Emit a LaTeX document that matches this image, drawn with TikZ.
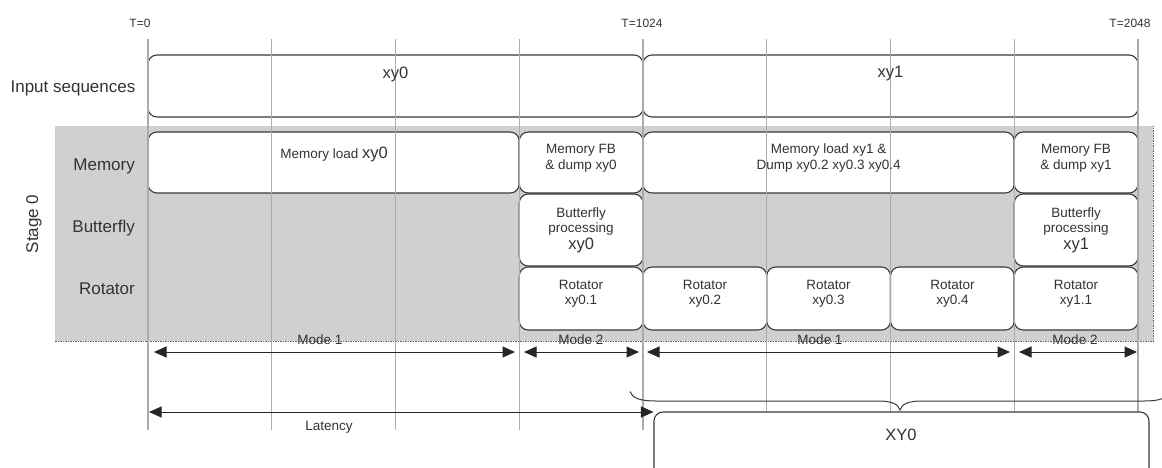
\documentclass[tikz,border=0pt]{standalone}
\usepackage{fontspec}
\setmainfont{Liberation Sans}
\usetikzlibrary{arrows.meta}
\definecolor{txtc}{HTML}{333333}
\definecolor{bgray}{HTML}{D0D0D0}
\definecolor{gline}{HTML}{ABABAB}
\definecolor{bline}{HTML}{3A3A3A}
\begin{document}
\begin{tikzpicture}[x=1pt,y=-1pt,
  box/.style={draw=bline, line width=1.1pt, rounded corners=9pt, fill=white, inner sep=0pt},
  lbl/.style={text=txtc, inner sep=0pt, align=center, font=\fontsize{13.5}{15.5}\selectfont},
  tlbl/.style={text=txtc, inner sep=0pt, font=\fontsize{12}{14}\selectfont},
  big/.style={text=txtc, inner sep=0pt, font=\fontsize{17}{19}\selectfont},
  mid/.style={text=txtc, inner sep=0pt, font=\fontsize{16.5}{18}\selectfont},
  gridln/.style={draw=gline, line width=1.4pt},
  dimarrow/.style={draw=black!85, line width=1pt, {Triangle[length=12.5pt,width=11pt]}-{Triangle[length=12.5pt,width=11pt]}},
  brd/.style={draw=black!60, line width=0.6pt, dash pattern=on 1.5pt off 1pt},
  bracepath/.style={draw=bline, line width=1pt}
]
\useasboundingbox (0,0) rectangle (1162,467);

% stage background
\fill[bgray] (55,126) rectangle (1153,341);
\draw[brd] (55,341) -- (1153,341) -- (1153,126);

% input sequences
\node[box, minimum width=495pt, minimum height=62pt] (in0) at (395.5,86) {};
\node[box, minimum width=495pt, minimum height=62pt] (in1) at (890.5,86) {};

% memory row
\node[box, minimum width=371.25pt, minimum height=61pt] (m0) at (333.6,162.5) {};
\node[box, minimum width=123.75pt, minimum height=61pt] (m1) at (581.1,162.5) {};
\node[box, minimum width=371.25pt, minimum height=61pt] (m2) at (828.6,162.5) {};
\node[box, minimum width=123.75pt, minimum height=61pt] (m3) at (1076.1,162.5) {};

% butterfly row
\node[box, minimum width=123.75pt, minimum height=72pt] (b0) at (581.1,230) {};
\node[box, minimum width=123.75pt, minimum height=72pt] (b1) at (1076.1,230) {};

% rotator row
\node[box, minimum width=123.75pt, minimum height=63pt] (r0) at (581.1,298.5) {};
\node[box, minimum width=123.75pt, minimum height=63pt] (r1) at (704.9,298.5) {};
\node[box, minimum width=123.75pt, minimum height=63pt] (r2) at (828.6,298.5) {};
\node[box, minimum width=123.75pt, minimum height=63pt] (r3) at (952.4,298.5) {};
\node[box, minimum width=123.75pt, minimum height=63pt] (r4) at (1076.1,298.5) {};

% grid lines
\foreach \i in {0,...,8}{
  \coordinate (gt\i) at ({148+123.75*\i},39);
  \coordinate (gb\i) at ({148+123.75*\i},430);
  \draw[gridln] (gt\i) -- (gb\i);
}

% texts in boxes
\node[mid] (tin0) at (395.5,74) {xy0};
\node[mid] (tin1) at (890.5,74) {xy1};
\node[lbl] (tm0) at (334,154) {Memory load {\fontsize{16.5}{18}\selectfont xy0}};
\node[lbl] (tm1) at (581.1,158) {Memory FB\\\& dump xy0};
\node[lbl] (tm2) at (828.6,158) {Memory load xy1 \&\\Dump xy0.2 xy0.3 xy0.4};
\node[lbl] (tm3) at (1076.1,158) {Memory FB\\\& dump xy1};
\node[lbl] (tb0) at (581.1,230) {Butterfly\\processing\\[1pt]{\fontsize{16.5}{18}\selectfont xy0}};
\node[lbl] (tb1) at (1076.1,230) {Butterfly\\processing\\[1pt]{\fontsize{16.5}{18}\selectfont xy1}};
\node[lbl] (tr0) at (581.1,293.5) {Rotator\\xy0.1};
\node[lbl] (tr1) at (704.9,293.5) {Rotator\\xy0.2};
\node[lbl] (tr2) at (828.6,293.5) {Rotator\\xy0.3};
\node[lbl] (tr3) at (952.4,293.5) {Rotator\\xy0.4};
\node[lbl] (tr4) at (1076.1,293.5) {Rotator\\xy1.1};

% row labels
\node[big] (lin) at (73,88.5) {Input sequences};
\node[big, anchor=east] (lmem) at (135,166) {Memory};
\node[big, anchor=east] (lbut) at (135,228) {Butterfly};
\node[big, anchor=east] (lrot) at (135,289) {Rotator};
\node[big, rotate=90] (lstage) at (34,224) {Stage 0};

% time labels
\node[tlbl] (t0) at (140,23) {T=0};
\node[tlbl] (t1) at (642,23) {T=1024};
\node[tlbl] (t2) at (1130,23) {T=2048};

% mode arrows
\coordinate (ma1) at (154,352); \coordinate (mb1) at (515,352);
\coordinate (ma2) at (524,352); \coordinate (mb2) at (639,352);
\coordinate (ma3) at (647,352); \coordinate (mb3) at (1010,352);
\coordinate (ma4) at (1019,352); \coordinate (mb4) at (1137,352);
\draw[dimarrow] (ma1) -- (mb1);
\draw[dimarrow] (ma2) -- (mb2);
\draw[dimarrow] (ma3) -- (mb3);
\draw[dimarrow] (ma4) -- (mb4);
\node[lbl] (md1) at (320,339.5) {Mode 1};
\node[lbl] (md2) at (581,339.5) {Mode 2};
\node[lbl] (md3) at (820,339.5) {Mode 1};
\node[lbl] (md4) at (1075,339.5) {Mode 2};

% XY0 box and brace
\node[box, minimum width=495pt, minimum height=70pt] (xy) at (901.5,447) {};
\node[mid] (txy) at (901,435) {XY0};
\draw[bracepath] (630,391.5) .. controls (632,398) and (640,401) .. (656,401) -- (878,401)
  .. controls (892,401) and (898,404) .. (900,410)
  .. controls (902,404) and (908,401) .. (922,401) -- (1144,401)
  .. controls (1160,401) and (1168,398) .. (1170,391.5);

% latency
\coordinate (la) at (149,412);
\draw[dimarrow] (la) -- (xy.west |- la);
\node[lbl] (lat) at (329,427) {Latency};
\end{tikzpicture}
\end{document}
